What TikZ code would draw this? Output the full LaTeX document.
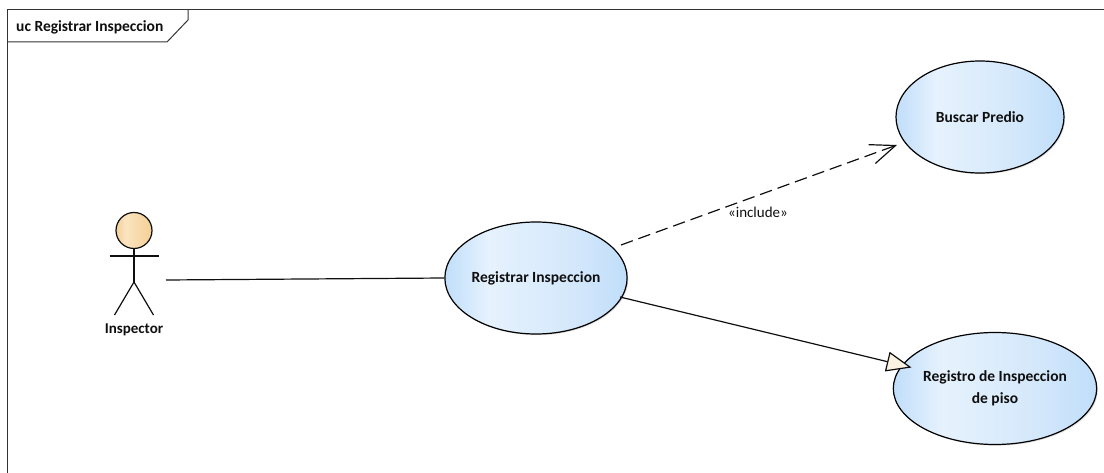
\documentclass[tikz,border=0pt]{standalone}
\usepackage{fontspec}
\setmainfont{Carlito}
\usetikzlibrary{arrows.meta,shapes.geometric,shadows}
\definecolor{ucA}{RGB}{192,222,250}
\definecolor{ucB}{RGB}{230,242,253}
\definecolor{ucC}{RGB}{212,232,251}
\definecolor{acA}{RGB}{244,207,150}
\definecolor{acB}{RGB}{250,228,192}
\definecolor{cream}{RGB}{252,242,226}
\definecolor{ink}{RGB}{15,15,15}
\pgfdeclarehorizontalshading{ucfill}{100bp}{
  color(0bp)=(ucA); color(25bp)=(ucA); color(37bp)=(ucB); color(60bp)=(ucC); color(75bp)=(ucA); color(100bp)=(ucA)}
\pgfdeclarehorizontalshading{actorfill}{100bp}{
  color(0bp)=(acA); color(25bp)=(acA); color(38bp)=(acB); color(75bp)=(acA); color(100bp)=(acA)}
\tikzset{
  x=1pt,y=-1pt,
  usecase/.style={ellipse,draw=black,line width=1.2pt,shading=ucfill,minimum width=168pt,minimum height=112pt,
    inner sep=0pt,align=center,font=\fontsize{15.5}{22}\selectfont\bfseries,text=ink,
    general shadow={fill=black!35,opacity=.35,shadow xshift=1.2pt,shadow yshift=-1.2pt}},
  assoc/.style={line width=1.2pt,draw=ink},
  include/.style={assoc,dash pattern=on 12.5pt off 6pt},
  stick/.style={line width=1.2pt,draw=ink},
  lab/.style={inner sep=0pt,text=ink},
  frameline/.style={line width=1pt,draw=black!80}
}
\begin{document}
\begin{tikzpicture}
\useasboundingbox (0,0) rectangle (1104,473);
% frame
\draw[frameline] (7.5,473) -- (7.5,10) -- (1104,10);
\draw[frameline] (7.5,42) -- (167,42) -- (188,20) -- (188,10);
\node[lab,anchor=west,font=\fontsize{15.5}{18}\selectfont\bfseries] (title) at (16,27) {uc Registrar Inspeccion};
% use cases
\node[usecase] (bus) at (980,117) {Buscar Predio};
\node[usecase] (reg) at (536,278) {Registrar Inspeccion};
\node[usecase] (pis) at (995,388.5) {Registro de Inspeccion\\de piso};
% actor
\node[circle,draw=ink,line width=1.2pt,shading=actorfill,minimum size=36pt,inner sep=0pt] (head) at (134,230.5) {};
\coordinate (armL) at (109.5,256);
\coordinate (armR) at (158.5,256);
\coordinate (hip) at (134,282);
\coordinate (legL) at (114.5,315);
\coordinate (legR) at (153.5,315);
\draw[stick] (head.south) -- (hip);
\draw[stick] (armL) -- (armR);
\draw[stick] (legL) -- (hip) -- (legR);
\node[lab,font=\fontsize{15}{18}\selectfont\bfseries] (insp) at (134,330) {Inspector};
% connectors
\coordinate (a1) at (166,280);
\coordinate (a2) at (621,245);
\coordinate (a3) at (897,145);
\coordinate (a4) at (620,297);
\coordinate (a5) at (911.5,367.5);
\draw[assoc] (a1) -- (reg.west);
\draw[include,-{Straight Barb[length=25pt,width=20pt,line width=1.2pt]}] (a2) -- (a3);
\draw[assoc,-{Triangle[length=25pt,width=20pt,fill=cream,line width=1.2pt]}] (a4) -- (a5);
\node[lab,font=\fontsize{15}{18}\selectfont] (inc) at (758,212) {«include»};
\end{tikzpicture}
\end{document}
